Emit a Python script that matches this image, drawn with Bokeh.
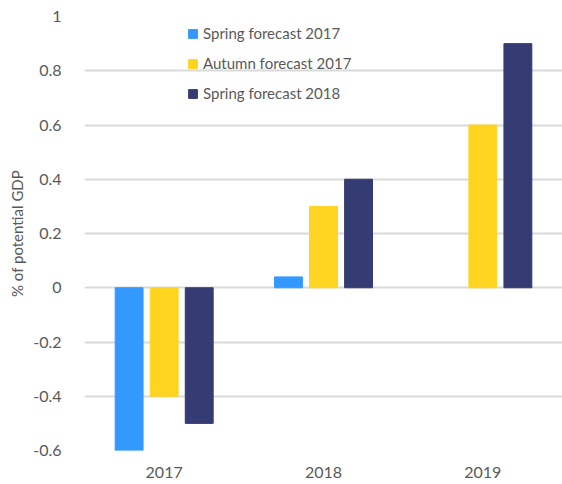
from bokeh.plotting import figure
from bokeh.models import Range1d, FactorRange, ColumnDataSource, Legend, LegendItem, FixedTicker, CustomJSTickFormatter
from bokeh.transform import dodge
from bokeh.embed import file_html
from bokeh.resources import INLINE
import math

years = ["2017", "2018", "2019"]
spring_2017 = [-0.6, 0.04, math.nan]
autumn_2017 = [-0.4, 0.3, 0.6]
spring_2018 = [-0.5, 0.4, 0.9]
series_names = ["Spring forecast 2017", "Autumn forecast 2017", "Spring forecast 2018"]
y_ticks = [-0.6, -0.4, -0.2, 0, 0.2, 0.4, 0.6, 0.8, 1.0]
colors = ["#3399ff", "#ffd421", "#353b73"]

src = ColumnDataSource(dict(year=years, s17=spring_2017, a17=autumn_2017, s18=spring_2018))

FONT = "Lato"
p = figure(width=562, height=484, x_range=FactorRange(*years), y_range=Range1d(-0.6, 1.0),
           output_backend="svg", toolbar_location=None,
           min_border_top=16, min_border_bottom=34, min_border_left=84, min_border_right=0)
p.outline_line_color = None
p.background_fill_color = "white"

renderers = []
for col, off, c in zip(["s17", "a17", "s18"], [-0.22, 0.0, 0.22], colors):
    r = p.vbar(x=dodge("year", off, range=p.x_range), top=col, bottom=0, width=0.175,
               source=src, fill_color=c, line_color=c, line_width=1)
    renderers.append(r)

legend = Legend(items=[LegendItem(label=n, renderers=[r]) for n, r in zip(series_names, renderers)],
                location=(103, 347), padding=0, margin=0, spacing=10,
                label_height=20, glyph_height=11, glyph_width=11, label_standoff=5,
                label_text_font=FONT, label_text_font_size="15px", label_text_color="#595959",
                background_fill_alpha=0, border_line_color=None)
p.add_layout(legend, "center")

p.yaxis.ticker = FixedTicker(ticks=y_ticks)
p.ygrid.ticker = FixedTicker(ticks=y_ticks)
p.ygrid.grid_line_color = "#d9d9d9"
p.ygrid.grid_line_width = 2
p.xgrid.grid_line_color = None

for ax in (p.xaxis[0], p.yaxis[0]):
    ax.axis_line_color = None
    ax.major_tick_line_color = None
    ax.minor_tick_line_color = None
    ax.major_label_text_font = FONT
    ax.major_label_text_font_size = "16px"
    ax.major_label_text_color = "#595959"

p.yaxis.major_label_standoff = 17
p.xaxis.major_label_standoff = 10
p.yaxis.axis_label = "% of potential GDP"
p.yaxis.axis_label_text_font = FONT
p.yaxis.axis_label_text_font_size = "15px"
p.yaxis.axis_label_text_font_style = "normal"
p.yaxis.axis_label_text_color = "#595959"
p.yaxis.axis_label_standoff = 4

p.yaxis.formatter = CustomJSTickFormatter(code="""
var v = Math.round(tick*10)/10;
if (Math.abs(v) < 1e-9) return '0';
return String(v);
""")

open("out.html", "w").write(file_html(p, INLINE))
